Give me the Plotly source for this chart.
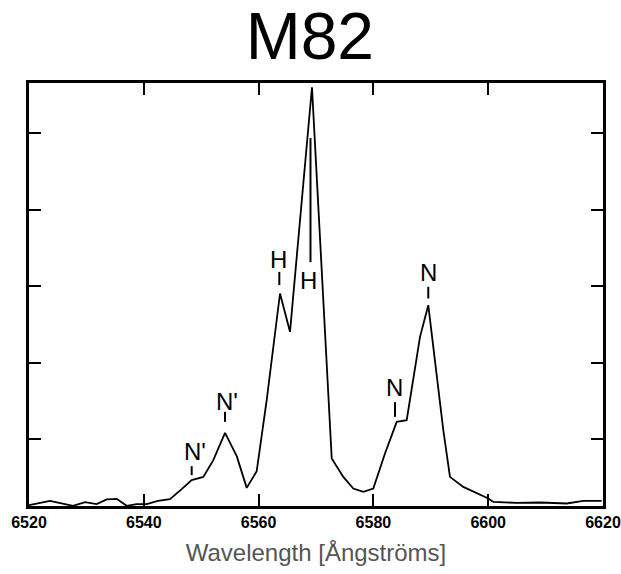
import plotly.graph_objects as go

# Spectrum of M82 (wavelength in Angstroms, relative intensity)
wavelength = [6520.00, 6523.66, 6527.67, 6529.76, 6531.79, 6533.54, 6535.28, 6537.02,
              6538.76, 6540.51, 6542.47, 6544.56, 6546.60, 6548.34, 6550.37, 6552.11,
              6554.15, 6556.19, 6557.93, 6559.67, 6561.41, 6563.73, 6565.47, 6569.30,
              6572.74, 6574.76, 6576.50, 6578.24, 6579.98, 6582.02, 6584.06, 6585.80,
              6588.12, 6589.56, 6592.18, 6593.34, 6595.66, 6598.00, 6600.02, 6600.89,
              6604.97, 6609.02, 6613.68, 6616.57, 6619.77]
intensity = [0.141, 0.197, 0.132, 0.180, 0.154, 0.216, 0.224, 0.132,
             0.154, 0.154, 0.197, 0.220, 0.350, 0.468, 0.511, 0.729,
             1.086, 0.782, 0.367, 0.586, 1.514, 2.908, 2.407, 5.605,
             0.752, 0.511, 0.359, 0.315, 0.359, 0.817, 1.230, 1.252,
             2.341, 2.755, 1.122, 0.511, 0.380, 0.294, 0.229, 0.184,
             0.171, 0.176, 0.163, 0.197, 0.197]

# Line identifications
line_labels = ["N'", "N'", "H", "H", "N", "N"]
mark_x = [6548.34, 6554.15, 6563.61, 6569.04, 6583.76, 6589.56]
mark_y0 = [0.533, 1.230, 3.017, 3.318, 1.295, 2.843]
mark_y1 = [0.651, 1.361, 3.191, 4.939, 1.488, 2.995]
label_x = [6548.85, 6554.50, 6563.55, 6568.69, 6583.70, 6589.56]
label_y = [0.847, 1.501, 3.357, 3.082, 1.684, 3.187]

x_ticks = [6520, 6540, 6560, 6580, 6600, 6620]
y_ticks = [1, 2, 3, 4, 5]

fig = go.Figure()
fig.add_trace(go.Scatter(x=wavelength, y=intensity, mode="lines",
                         line=dict(color="black", width=1.8),
                         hoverinfo="skip", showlegend=False))

mx, my = [], []
for x, a, b in zip(mark_x, mark_y0, mark_y1):
    mx += [x, x, None]
    my += [a, b, None]
fig.add_trace(go.Scatter(x=mx, y=my, mode="lines",
                         line=dict(color="black", width=2),
                         hoverinfo="skip", showlegend=False))

for t, x, y in zip(line_labels, label_x, label_y):
    fig.add_annotation(x=x, y=y, text=t, showarrow=False,
                       font=dict(family="Liberation Sans, Arial, sans-serif", size=24, color="black"))

fig.update_layout(
    width=621, height=574,
    margin=dict(l=29, r=18, t=83, b=68),
    paper_bgcolor="white", plot_bgcolor="white",
    title=dict(text="M82", x=0.499, xanchor="center", y=0.938, yanchor="middle",
               font=dict(family="Liberation Sans, Arial, sans-serif", size=66, color="black")),
    xaxis=dict(range=[6520, 6620], tickvals=x_ticks, ticktext=[str(v) for v in x_ticks],
               ticks="inside", ticklen=12, tickwidth=2, tickcolor="black",
               showline=True, linecolor="black", linewidth=2.5, mirror="ticks",
               showgrid=False, zeroline=False, automargin=False,
               ticklabeloverflow="allow",
               tickfont=dict(family="Liberation Sans, Arial", size=16,
                             color="black", weight="bold"),
               title=dict(text="Wavelength [Ångströms]", standoff=15,
                          font=dict(family="Liberation Sans, Arial, sans-serif", size=24, color="#555555"))),
    yaxis=dict(range=[0.13, 5.66], tickvals=y_ticks, showticklabels=False,
               ticks="inside", ticklen=12, tickwidth=2, tickcolor="black",
               showline=True, linecolor="black", linewidth=2.5, mirror="ticks",
               showgrid=False, zeroline=False, automargin=False),
)

fig.write_html("out.html")
